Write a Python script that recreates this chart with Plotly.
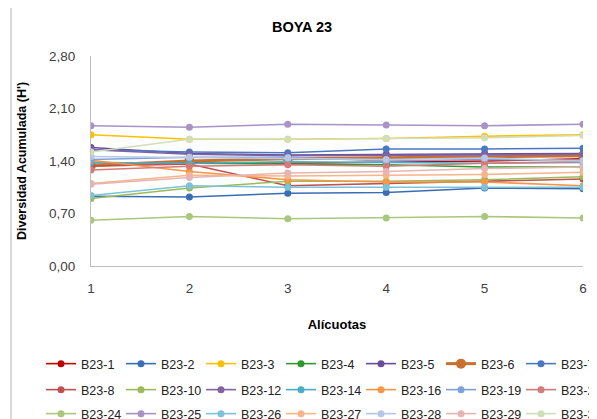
import plotly.graph_objects as go

alicuotas = [1, 2, 3, 4, 5, 6]
y_ticks = [0.0, 0.7, 1.4, 2.1, 2.8]

b23_1 = [1.35, 1.38, 1.37, 1.38, 1.40, 1.43]
b23_2 = [0.93, 0.92, 0.97, 0.98, 1.04, 1.03]
b23_3 = [1.75, 1.69, 1.69, 1.70, 1.73, 1.75]
b23_4 = [1.38, 1.37, 1.37, 1.35, 1.32, 1.32]
b23_5 = [1.58, 1.50, 1.48, 1.49, 1.50, 1.50]
b23_6 = [1.34, 1.40, 1.43, 1.44, 1.45, 1.47]
b23_7 = [1.55, 1.52, 1.51, 1.56, 1.56, 1.57]
b23_8 = [1.33, 1.36, 1.07, 1.10, 1.13, 1.16]
b23_10 = [0.90, 1.04, 1.13, 1.13, 1.15, 1.19]
b23_12 = [1.55, 1.49, 1.47, 1.47, 1.48, 1.49]
b23_14 = [1.38, 1.37, 1.39, 1.38, 1.37, 1.38]
b23_16 = [1.41, 1.26, 1.15, 1.12, 1.12, 1.07]
b23_19 = [1.42, 1.45, 1.45, 1.40, 1.42, 1.41]
b23_22 = [1.28, 1.33, 1.35, 1.33, 1.37, 1.39]
b23_24 = [0.61, 0.66, 0.63, 0.64, 0.66, 0.64]
b23_25 = [1.87, 1.85, 1.89, 1.88, 1.87, 1.89]
b23_26 = [0.94, 1.07, 1.05, 1.05, 1.05, 1.05]
b23_27 = [1.10, 1.21, 1.20, 1.21, 1.22, 1.25]
b23_28 = [1.46, 1.45, 1.44, 1.42, 1.44, 1.40]
b23_29 = [1.09, 1.18, 1.24, 1.26, 1.30, 1.32]
b23_30 = [1.52, 1.69, 1.69, 1.70, 1.71, 1.74]

series = [
    ("B23-1", b23_1, "#C00000"), ("B23-2", b23_2, "#3A6DB5"), ("B23-3", b23_3, "#FFC000"),
    ("B23-4", b23_4, "#2E9A2E"), ("B23-5", b23_5, "#6A4C9C"), ("B23-6", b23_6, "#C8702F"),
    ("B23-7", b23_7, "#4A78C2"),
    ("B23-8", b23_8, "#C0504D"), ("B23-10", b23_10, "#9BBB59"), ("B23-12", b23_12, "#8064A2"),
    ("B23-14", b23_14, "#4BACC6"), ("B23-16", b23_16, "#F79646"), ("B23-19", b23_19, "#7FA0D8"),
    ("B23-22", b23_22, "#D47B79"),
    ("B23-24", b23_24, "#A9C77D"), ("B23-25", b23_25, "#A893C9"), ("B23-26", b23_26, "#7CC2D9"),
    ("B23-27", b23_27, "#F9B48A"), ("B23-28", b23_28, "#B5C7E5"), ("B23-29", b23_29, "#E5B5B4"),
    ("B23-30", b23_30, "#D0DEB9"),
]

legend_names = ["legend", "legend2", "legend3"]

fig = go.Figure()
for i, (name, vals, color) in enumerate(series):
    thick = name == "B23-6"
    fig.add_trace(go.Scatter(
        x=alicuotas, y=vals, name=name, mode="lines+markers",
        line=dict(color=color, width=3 if thick else 1.6),
        marker=dict(color=color, size=10 if thick else 7),
        legend=legend_names[i // 7],
    ))

# page offset (body margin) compensation: figure starts at (8, 8) in the window
OX, OY = 8, 8
W, H = 597 - OX, 419 - OY
# plot area in window pixels
PL, PR, PT, PB = 91, 583, 56, 266
L, R, T, B = PL - OX, 0, PT - OY, H - (PB - OY)
GW = W - L - R           # full paper width
pw, ph = PR - PL, PB - PT

def px_x(p):
    return (p - PL) / GW

def px_y(p):
    return (PB - p) / ph

leg_common = dict(orientation="h", xanchor="left", yanchor="top",
                  font=dict(family="Liberation Sans, Arial", size=12.5, color="#222222"),
                  entrywidth=35, bgcolor="rgba(0,0,0,0)", itemclick=False)

fig.update_layout(
    width=W, height=H,
    margin=dict(l=L, r=R, t=T, b=B, autoexpand=False),
    paper_bgcolor="white", plot_bgcolor="white",
    separators=",.",
    font=dict(family="Liberation Sans, Arial", color="#404040"),
    title=dict(text="<b>BOYA 23</b>", x=(302 - OX) / W, xref="container", xanchor="center",
               y=1 - (27 - OY) / H, yref="container", yanchor="middle",
               font=dict(size=14.5, color="#000000")),
    xaxis=dict(domain=[0, pw / GW], range=[1, 6], tickvals=alicuotas,
               ticktext=[str(a) for a in alicuotas],
               showgrid=False, zeroline=False, showline=True, linecolor="#BFBFBF", linewidth=1,
               ticks="", ticklabelstandoff=10,
               tickfont=dict(size=13.5, color="#404040"),
               title=dict(text="<b>Alícuotas</b>", font=dict(size=13, color="#000000"), standoff=24)),
    yaxis=dict(range=[0, 2.8], tickvals=y_ticks, tickformat=".2f",
               showgrid=False, zeroline=False, showline=True, linecolor="#BFBFBF", linewidth=1,
               ticks="", ticklabelstandoff=12,
               tickfont=dict(size=13.5, color="#404040"),
               title=dict(text="<b>Diversidad Acumulada (H')</b>", font=dict(size=12.5, color="#000000"), standoff=19)),
    legend=dict(x=px_x(41), y=px_y(349), **leg_common),
    legend2=dict(x=px_x(41), y=px_y(375), **leg_common),
    legend3=dict(x=px_x(41), y=px_y(399), **leg_common),
    shapes=[
        dict(type="rect", xref="paper", yref="paper", x0=px_x(11), x1=px_x(700),
             y0=px_y(6), y1=px_y(600), line=dict(color="#BFBFBF", width=1.2), layer="below"),
    ],
)

fig.write_html("out.html")
